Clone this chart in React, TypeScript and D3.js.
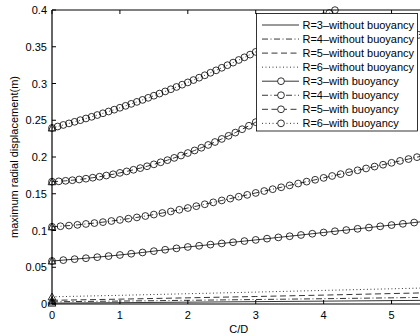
import React from "react";
import * as d3 from "d3";

// ---- data ----
const xTickValues = [0, 1, 2, 3, 4, 5];
const xTickLabels = ["0", "1", "2", "3", "4", "5"];
const yTickValues = [0, 0.05, 0.1, 0.15, 0.2, 0.25, 0.3, 0.35, 0.4];
const yTickLabels = ["0", "0.05", "0.1", "0.15", "0.2", "0.25", "0.3", "0.35", "0.4"];
const xLabel = "C/D";
const yLabel = "maximum radial displacement(m)";

const legendLabels = [
  "R=3\u2013without buoyancy",
  "R=4\u2013without buoyancy",
  "R=5\u2013without buoyancy",
  "R=6\u2013without buoyancy",
  "R=3\u2013with buoyancy",
  "R=4\u2013with buoyancy",
  "R=5\u2013with buoyancy",
  "R=6\u2013with buoyancy",
];

// without buoyancy (sampled at these C/D values)
const noBuoyX = [0, 1, 2, 3, 4, 5, 5.5];
const withoutR3 = [0.0012, 0.0018, 0.0025, 0.0032, 0.0039, 0.0046, 0.005];
const withoutR4 = [0.003, 0.004, 0.005, 0.0061, 0.0072, 0.0084, 0.009];
const withoutR5 = [0.005, 0.0066, 0.0084, 0.0102, 0.0121, 0.0142, 0.0152];
const withoutR6 = [0.0098, 0.0118, 0.014, 0.0162, 0.0185, 0.0207, 0.0218];

// with buoyancy: C/D sampling step per series
const stepR3 = 1 / 6;
const stepR4 = 0.125;
const stepR5 = 0.1;
const stepR6 = 1 / 12;

const withR3 = [
  0.0585, 0.0597, 0.061, 0.0623, 0.0637, 0.0652, 0.0667, 0.0684, 0.0701, 0.0719,
  0.0738, 0.0757, 0.0776, 0.0792, 0.0808, 0.0824, 0.084, 0.0856, 0.0872, 0.0889,
  0.0906, 0.0922, 0.0939, 0.0956, 0.0973, 0.099, 0.1006, 0.1023, 0.104, 0.1057,
  0.1074, 0.1091, 0.1108, 0.1125,
];
const withR4 = [
  0.105, 0.1058, 0.1067, 0.1077, 0.1089, 0.1101, 0.1114, 0.1129, 0.1144, 0.1161,
  0.1178, 0.1197, 0.1217, 0.1238, 0.1259, 0.1282, 0.1306, 0.1331, 0.1357, 0.1383,
  0.1409, 0.1434, 0.146, 0.1485, 0.1511, 0.1537, 0.1562, 0.1588, 0.1614, 0.1639,
  0.1665, 0.169, 0.1716, 0.1742, 0.1767, 0.1793, 0.1819, 0.1844, 0.187, 0.1895,
  0.1921, 0.1947, 0.1972, 0.1998, 0.2024,
];
const withR5 = [
  0.1664, 0.1669, 0.1676, 0.1684, 0.1694, 0.1705, 0.1718, 0.1732, 0.1748, 0.1765,
  0.1784, 0.1804, 0.1826, 0.1849, 0.1874, 0.19, 0.1928, 0.1957, 0.1988, 0.202,
  0.2054, 0.2089, 0.2126, 0.2164, 0.2204, 0.2246, 0.2288, 0.2332, 0.2378, 0.2425,
  0.2474, 0.2524, 0.2573, 0.2623, 0.2672, 0.2722, 0.2771, 0.2821, 0.287, 0.292,
  0.2969, 0.3019, 0.3068, 0.3118, 0.3167, 0.3217, 0.3266, 0.3316, 0.3365, 0.3415,
  0.3464, 0.3514, 0.3563, 0.3613, 0.3662, 0.3712,
];
const withR6 = [
  0.2395, 0.2415, 0.2436, 0.2457, 0.2479, 0.2501, 0.2524, 0.2547, 0.2571, 0.2595,
  0.2619, 0.2644, 0.267, 0.2696, 0.2723, 0.275, 0.2777, 0.2805, 0.2834, 0.2863,
  0.2892, 0.2922, 0.2953, 0.2984, 0.3015, 0.3047, 0.3079, 0.3112, 0.3146, 0.3179,
  0.3214, 0.3249, 0.3284, 0.332, 0.3356, 0.3393, 0.343, 0.3468, 0.3506, 0.3545,
  0.3584, 0.3624, 0.3664, 0.3704, 0.3746, 0.3787, 0.3829, 0.3872, 0.3915, 0.3959,
  0.3998, 0.4042,
];

// ---- layout ----
const W = 420;
const H = 336;
const left = 52;
const top = 10;
const plotW = 373.5;
const plotH = 294;

const DASH = "6,3.5";
const DOT = "1,2.5";
const DASHDOT = "6,2.5,1,2.5";

type Series = { xs: number[]; ys: number[]; dash: string | null; marker: boolean };

export default function App() {
  const x = d3.scaleLinear().domain([0, 5.5]).range([left, left + plotW]);
  const y = d3.scaleLinear().domain([0, 0.4]).range([top + plotH, top]);

  const grid = (n: number, step: number) => d3.range(n).map((i) => i * step);

  const series: Series[] = [
    { xs: noBuoyX, ys: withoutR3, dash: null, marker: false },
    { xs: noBuoyX, ys: withoutR4, dash: DASHDOT, marker: false },
    { xs: noBuoyX, ys: withoutR5, dash: DASH, marker: false },
    { xs: noBuoyX, ys: withoutR6, dash: DOT, marker: false },
    { xs: grid(withR3.length, stepR3), ys: withR3, dash: null, marker: true },
    { xs: grid(withR4.length, stepR4), ys: withR4, dash: DASHDOT, marker: true },
    { xs: grid(withR5.length, stepR5), ys: withR5, dash: DASH, marker: true },
    { xs: grid(withR6.length, stepR6), ys: withR6, dash: DOT, marker: true },
  ];

  const line = d3
    .line<[number, number]>()
    .x((d) => x(d[0]))
    .y((d) => y(d[1]));

  const tri = d3.symbol().type(d3.symbolTriangle).size(26)();

  const font = "'Liberation Sans', Arial, Helvetica, sans-serif";
  const legX = 256.5;
  const legY = 13.5;
  const legW = 161;
  const legH = 117.5;
  const rowH = 14.05;

  return (
    <svg
      width={W}
      height={H}
      viewBox={`0 0 ${W} ${H}`}
      style={{ position: "absolute", left: 0, top: 0, background: "#fff" }}
      fontFamily={font}
    >
      <defs>
        <clipPath id="plotClip">
          <rect x={left} y={top} width={plotW} height={plotH} />
        </clipPath>
      </defs>
      <rect x={0} y={0} width={W} height={H} fill="#fff" />

      {/* series lines */}
      <g clipPath="url(#plotClip)">
        {series.map((s, i) => (
          <path
            key={"l" + i}
            d={line(s.xs.map((v, j) => [v, s.ys[j]] as [number, number])) || ""}
            fill="none"
            stroke="#000"
            strokeWidth={0.8}
            strokeDasharray={s.dash || undefined}
          />
        ))}
      </g>

      {/* markers */}
      {series.map((s, i) => (
        <g key={"m" + i}>
          {s.marker &&
            s.xs.map((v, j) =>
              s.ys[j] <= 0.4 && v <= 5.5 ? (
                <circle
                  key={j}
                  cx={x(v)}
                  cy={y(s.ys[j])}
                  r={3.4}
                  fill="none"
                  stroke="#000"
                  strokeWidth={0.8}
                />
              ) : null
            )}
          <path
            d={tri}
            transform={`translate(${x(s.xs[0])},${y(s.ys[0]) + 0.8})`}
            fill="none"
            stroke="#000"
            strokeWidth={0.8}
          />
        </g>
      ))}

      {/* axes box */}
      <line x1={left} x2={left} y1={top} y2={top + plotH} stroke="#000" strokeWidth={1.2} />
      <line x1={left} x2={left + plotW} y1={top + plotH} y2={top + plotH} stroke="#000" strokeWidth={1.2} />
      <line x1={left} x2={left + plotW} y1={top} y2={top} stroke="#000" strokeWidth={1.2} />
      <line x1={left + plotW} x2={left + plotW} y1={top} y2={top + plotH} stroke="#000" strokeWidth={1.2} />

      {/* x ticks */}
      {xTickValues.map((v, i) => (
        <g key={"xt" + i}>
          <line x1={x(v)} x2={x(v)} y1={top + plotH} y2={top + plotH - 4} stroke="#000" strokeWidth={1} />
          <line x1={x(v)} x2={x(v)} y1={top} y2={top + 4} stroke="#000" strokeWidth={1} />
          <text x={x(v)} y={top + plotH + 14.5} fontSize={11} textAnchor="middle" fill="#000">
            {xTickLabels[i]}
          </text>
        </g>
      ))}

      {/* y ticks */}
      {yTickValues.map((v, i) => (
        <g key={"yt" + i}>
          <line x1={left} x2={left + 4} y1={y(v)} y2={y(v)} stroke="#000" strokeWidth={1} />
          <text x={left - 5} y={y(v) + 4} fontSize={11} textAnchor="end" fill="#000">
            {yTickLabels[i]}
          </text>
        </g>
      ))}

      {/* axis labels */}
      <text x={left + plotW / 2} y={333} fontSize={11} textAnchor="middle" fill="#000">
        {xLabel}
      </text>
      <text
        transform={`translate(18,${top + plotH / 2}) rotate(-90)`}
        fontSize={11}
        textAnchor="middle"
        fill="#000"
      >
        {yLabel}
      </text>

      {/* legend */}
      <rect x={legX} y={legY} width={legW} height={legH} fill="#fff" stroke="#000" strokeWidth={0.8} />
      {series.map((s, i) => {
        const cy = legY + 11.5 + i * rowH;
        return (
          <g key={"lg" + i}>
            <line
              x1={262}
              x2={299}
              y1={cy}
              y2={cy}
              stroke="#000"
              strokeWidth={0.8}
              strokeDasharray={s.dash || undefined}
            />
            {s.marker && <circle cx={281} cy={cy} r={3.4} fill="#fff" stroke="#000" strokeWidth={0.8} />}
            <text x={302.5} y={cy + 4} fontSize={11} fill="#000">
              {legendLabels[i]}
            </text>
          </g>
        );
      })}
    </svg>
  );
}
